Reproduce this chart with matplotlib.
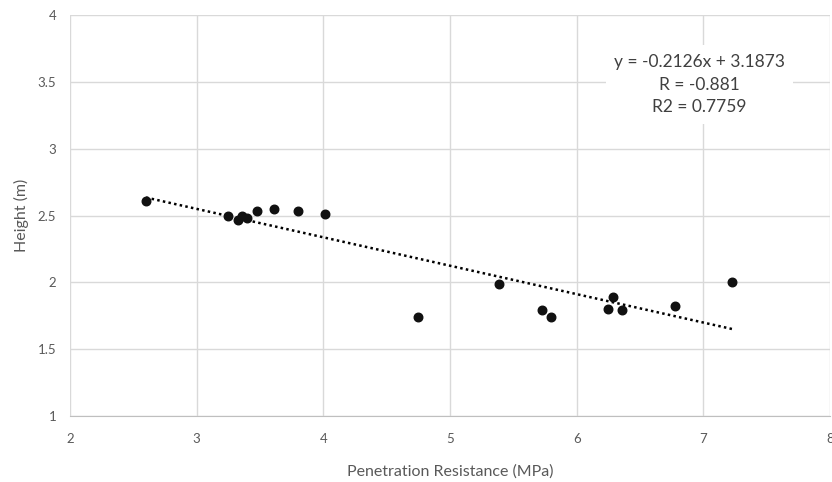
import numpy as np
import matplotlib.pyplot as plt

# penetration resistance (MPa) and height (m)
resistance = [2.60, 3.25, 3.33, 3.36, 3.40, 3.48, 3.61, 3.80, 4.01,
              4.75, 5.39, 5.73, 5.80, 6.25, 6.29, 6.36, 6.78, 7.23]
height = [2.61, 2.50, 2.47, 2.50, 2.48, 2.53, 2.55, 2.53, 2.51,
          1.74, 1.99, 1.79, 1.74, 1.80, 1.89, 1.79, 1.82, 2.00]

slope = -0.2126
intercept = 3.1873
eq_lines = ["y = -0.2126x + 3.1873", "R = -0.881", "R2 = 0.7759"]

plt.rcParams['font.family'] = ['Lato', 'DejaVu Sans']

fig = plt.figure(figsize=(8.32, 4.82), dpi=100)
ax = fig.add_axes([70 / 832, 1 - 416 / 482, 760 / 832, 401 / 482])

ax.set_xlim(2, 8)
ax.set_ylim(1, 4)
ax.set_xticks(range(2, 9))
ax.set_yticks(np.arange(1, 4.01, 0.5))
ax.set_yticklabels(["1", "1.5", "2", "2.5", "3", "3.5", "4"])
ax.grid(True, color="#d9d9d9", linewidth=1)
ax.set_axisbelow(True)
for s in ["top", "right", "left"]:
    ax.spines[s].set_visible(False)
ax.spines["bottom"].set_color("#bfbfbf")
ax.tick_params(length=0, colors="#595959", labelsize=9.5)
ax.tick_params(axis="x", pad=12)
ax.tick_params(axis="y", pad=10)

# trendline
xs = np.array([min(resistance), max(resistance)])
ax.plot(xs, slope * xs + intercept, linestyle=(0, (1, 1.3)), color="black", linewidth=1.8, zorder=2)

ax.scatter(resistance, height, s=38, color="#111111", zorder=3)

ax.text(6.97, 3.48, "\n".join(eq_lines), ha="center", va="center", fontsize=12.5,
        color="#404040", linespacing=1.52,
        bbox=dict(facecolor="white", edgecolor="none", pad=6))

ax.set_xlabel("Penetration Resistance (MPa)", fontsize=11.5, color="#595959", labelpad=14)
ax.set_ylabel("Height (m)", fontsize=11.5, color="#595959", labelpad=6)

fig.savefig("out.png", dpi=100)
